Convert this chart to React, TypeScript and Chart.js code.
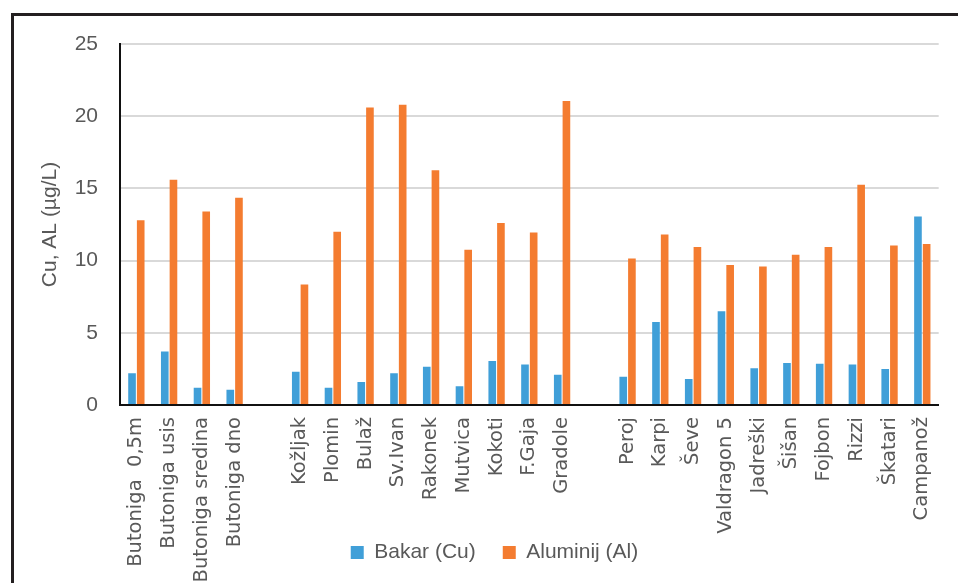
import React, { useEffect, useRef } from "react";
import { Chart, registerables } from "chart.js";

Chart.register(...registerables);

const categories: string[] = [
  "Butoniga  0,5m", "Butoniga usis", "Butoniga sredina", "Butoniga dno", "",
  "Kožljak", "Plomin", "Bulaž", "Sv.Ivan", "Rakonek", "Mutvica", "Kokoti", "F.Gaja", "Gradole", "",
  "Peroj", "Karpi", "Ševe", "Valdragon 5", "Jadreški", "Šišan", "Fojbon", "Rizzi", "Škatari", "Campanož",
];

const bakarCu: (number | null)[] = [
  2.2, 3.7, 1.2, 1.05, null,
  2.3, 1.2, 1.6, 2.2, 2.65, 1.3, 3.05, 2.8, 2.1, null,
  1.95, 5.75, 1.8, 6.5, 2.55, 2.9, 2.85, 2.8, 2.5, 13.05,
];

const aluminijAl: (number | null)[] = [
  12.8, 15.6, 13.4, 14.35, null,
  8.35, 12.0, 20.6, 20.8, 16.25, 10.75, 12.6, 11.95, 21.05, null,
  10.15, 11.8, 10.95, 9.7, 9.6, 10.4, 10.95, 15.25, 11.05, 11.15,
];

const yTicks: number[] = [0, 5, 10, 15, 20, 25];

const GRAY = "#595959";
const FONT = "'Liberation Sans', Arial, sans-serif";
const XFONT = "'DejaVu Sans', sans-serif";

const shiftLegend = {
  id: "shiftLegend",
  afterLayout(chart: any) {
    const lg = chart.legend;
    if (lg) {
      lg.left += 16;
      lg.right += 16;
    }
  },
};

export default function App() {
  const ref = useRef<HTMLCanvasElement | null>(null);

  useEffect(() => {
    if (!ref.current) return;
    const chart = new Chart(ref.current, {
      type: "bar",
      data: {
        labels: categories,
        datasets: [
          {
            label: "Bakar (Cu)",
            data: bakarCu,
            backgroundColor: "#409FD8",
            barPercentage: 0.88,
            categoryPercentage: 0.53,
          },
          {
            label: "Aluminij (Al)",
            data: aluminijAl,
            backgroundColor: "#F47C30",
            barPercentage: 0.88,
            categoryPercentage: 0.53,
          },
        ],
      },
      plugins: [shiftLegend],
      options: {
        responsive: false,
        animation: false,
        devicePixelRatio: 1,
        layout: { padding: { top: 28, right: 15, bottom: 27, left: 0 } },
        plugins: {
          tooltip: { enabled: false },
          title: { display: false },
          legend: {
            display: true,
            position: "bottom",
            labels: {
              color: GRAY,
              font: { size: 21, family: FONT },
              boxWidth: 13,
              boxHeight: 13,
              padding: 27,
            },
          },
        },
        scales: {
          x: {
            grid: { display: false, drawTicks: false },
            border: { display: true, color: "#111", width: 2 },
            ticks: {
              color: GRAY,
              font: { size: 19.5, family: XFONT },
              minRotation: 90,
              maxRotation: 90,
              autoSkip: false,
              padding: 12,
            },
            afterFit: (s: any) => {
              s.height = 110;
              s._computeLabelArea = () => undefined;
            },
          },
          y: {
            min: 0,
            max: 25,
            afterBuildTicks: (s: any) => {
              s.ticks = yTicks.map((v) => ({ value: v }));
            },
            grid: {
              drawTicks: false,
              lineWidth: 2,
              color: (c: any) => (c.tick && c.tick.value === 0 ? "rgba(0,0,0,0)" : "#D9D9D9"),
            },
            border: { display: true, color: "#111", width: 2 },
            ticks: {
              color: GRAY,
              font: { size: 21, family: FONT },
              padding: 22,
            },
            title: {
              display: true,
              text: "Cu, AL (µg/L)",
              color: GRAY,
              font: { size: 21, family: FONT },
              padding: { top: 24, bottom: 0 },
            },
            afterFit: (s: any) => {
              s.width = 106;
              s.paddingTop = 12;
              s.paddingBottom = 12;
            },
          },
        },
      },
    });
    return () => chart.destroy();
  }, []);

  return (
    <div style={{ position: "fixed", left: 0, top: 0, width: 958, height: 583, overflow: "hidden", background: "#fff" }}>
      <div
        style={{
          position: "absolute",
          left: 11,
          top: 13,
          width: 1000,
          height: 1000,
          border: "3px solid #231F20",
          boxSizing: "border-box",
        }}
      />
      <canvas
        ref={ref}
        width={944}
        height={584}
        style={{ position: "absolute", left: 14, top: 16, width: 944, height: 584 }}
      />
    </div>
  );
}
